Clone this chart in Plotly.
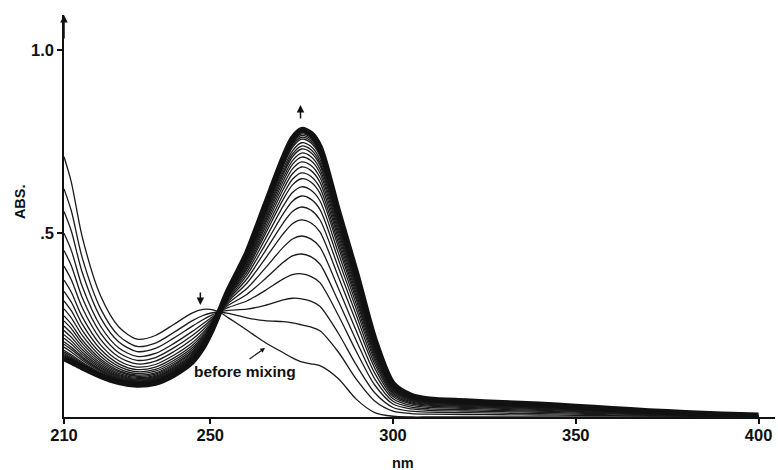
import plotly.graph_objects as go

# Wavelength grid (nm) at which the two end spectra were read
wavelength = [210, 212, 215, 220, 225, 230, 235, 240, 245, 248, 250, 252.5, 255,
              260, 265, 270, 272.5, 275, 277.5, 280, 285, 290, 295, 300, 305, 310,
              320, 330, 340, 350, 360, 370, 380, 390, 400]

# "before mixing" spectrum (absorbance)
before_abs = [0.709, 0.640, 0.490, 0.330, 0.245, 0.212, 0.222, 0.252, 0.283, 0.293,
              0.293, 0.286, 0.270, 0.237, 0.203, 0.175, 0.161, 0.150, 0.145, 0.140,
              0.105, 0.048, 0.012, 0.002, 0.0, 0.0, 0.0, 0.0, 0.0, 0.0, 0.0, 0.0,
              0.0, 0.0, 0.0]

# final spectrum (outermost of the thick envelope)
final_abs = [0.160, 0.150, 0.135, 0.112, 0.095, 0.088, 0.093, 0.115, 0.150, 0.190,
             0.228, 0.286, 0.345, 0.445, 0.575, 0.705, 0.758, 0.782, 0.772, 0.735,
             0.560, 0.390, 0.210, 0.090, 0.058, 0.048, 0.043, 0.038, 0.034, 0.028,
             0.022, 0.016, 0.011, 0.007, 0.004]

peak_275 = [0.150, 0.251, 0.322, 0.390, 0.444, 0.493, 0.537, 0.572, 0.602, 0.627,
            0.649, 0.665, 0.681, 0.695, 0.708, 0.719, 0.730, 0.738, 0.747, 0.757,
            0.762, 0.767, 0.771, 0.775, 0.779, 0.782]

x_ticks = [210, 250, 300, 350, 400]
x_tick_text = ["210", "250", "300", "350", "400"]
y_ticks = [0.5, 1.0]
y_tick_text = [".5", "1.0"]

i275 = wavelength.index(275)
b0, f0 = before_abs[i275], final_abs[i275]

fig = go.Figure()
for p in peak_275:
    frac = (p - b0) / (f0 - b0)
    ys = [b + frac * (f - b) for b, f in zip(before_abs, final_abs)]
    fig.add_trace(go.Scatter(x=wavelength, y=ys, mode="lines",
                             line=dict(color="#1a1a1a", width=1.3, shape="spline", smoothing=0.8),
                             hoverinfo="skip"))

fig.add_trace(go.Scatter(x=wavelength, y=final_abs, mode="lines",
                         line=dict(color="#111111", width=6, shape="spline", smoothing=0.8),
                         hoverinfo="skip"))

FAM = "Liberation Sans, Arial, sans-serif"
tickfont = dict(family=FAM, size=16.5, color="#111111", weight="bold")

fig.update_layout(
    width=778, height=470,
    margin=dict(l=64, r=3, t=15, b=53),
    paper_bgcolor="white", plot_bgcolor="white",
    showlegend=False,
    font=dict(family=FAM, size=15, color="#111111"),
    xaxis=dict(range=[210, 404.5], showgrid=False, zeroline=False,
               showline=True, linecolor="#111111", linewidth=1.5,
               ticks="outside", ticklen=5, tickwidth=1.5, tickcolor="#111111",
               tickvals=x_ticks, ticktext=x_tick_text, tickfont=tickfont,
               ticklabelstandoff=-3, automargin=False),
    yaxis=dict(range=[0, 1.095], showgrid=False, zeroline=False,
               showline=True, linecolor="#111111", linewidth=1.5,
               ticks="outside", ticklen=5, tickwidth=1.5, tickcolor="#111111",
               tickvals=y_ticks, ticktext=y_tick_text, tickfont=tickfont, automargin=False),
)

ann = []
# y axis arrow
ann.append(dict(x=210, y=1.095, xref="x", yref="y", ax=0, ay=25, text="",
                showarrow=True, arrowhead=2, arrowsize=1, arrowwidth=1.5, arrowcolor="#111111"))
# down arrow near 248 nm
ann.append(dict(x=247.3, y=0.305, xref="x", yref="y", ax=0, ay=-14, text="",
                showarrow=True, arrowhead=2, arrowsize=1, arrowwidth=1.5, arrowcolor="#111111"))
# up arrow above the peak
ann.append(dict(x=274.7, y=0.85, xref="x", yref="y", ax=0, ay=15, text="",
                showarrow=True, arrowhead=2, arrowsize=1, arrowwidth=1.5, arrowcolor="#111111"))
# before mixing arrow
ann.append(dict(x=265.0, y=0.188, xref="x", yref="y", ax=-17, ay=12, text="",
                showarrow=True, arrowhead=2, arrowsize=0.8, arrowwidth=1.2, arrowcolor="#111111"))
ann.append(dict(x=259.5, y=0.123, xref="x", yref="y", text="before mixing", showarrow=False,
                xanchor="center", yanchor="middle",
                font=dict(family=FAM, size=15.5, color="#111111", weight="bold")))
# axis titles
ann.append(dict(x=-0.0619, y=0.537, xref="paper", yref="paper", text="ABS.", textangle=-90,
                xanchor="center", yanchor="middle", showarrow=False,
                font=dict(family=FAM, size=14.5, color="#111111", weight="bold")))
ann.append(dict(x=0.4768, y=-0.114, xref="paper", yref="paper", text="nm", showarrow=False,
                xanchor="center", yanchor="middle",
                font=dict(family=FAM, size=14.5, color="#111111", weight="bold")))
fig.update_layout(annotations=ann)

fig.write_html("out.html", config={"displayModeBar": False},
               post_script="document.body.style.margin='0';document.body.style.overflow='hidden';")
